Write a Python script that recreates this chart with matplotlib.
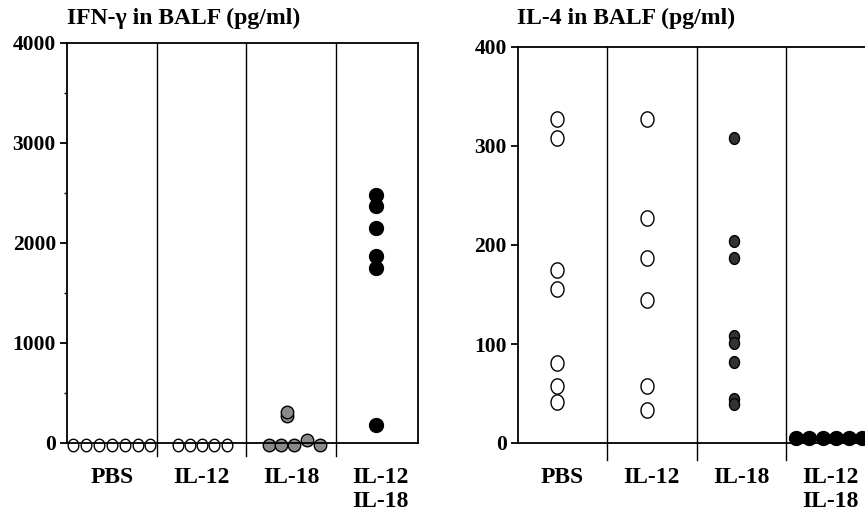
import matplotlib.pyplot as plt
import numpy as np
from matplotlib.path import Path

plt.rcParams['font.family'] = ['Liberation Serif', 'DejaVu Serif']
plt.rcParams['font.weight'] = 'bold'

groups = ['PBS', 'IL-12', 'IL-18', 'IL-12\nIL-18']

# IFN-gamma in BALF (pg/ml)
ifn_pbs = [-20, -20, -20, -20, -20, -20, -20]
ifn_il12 = [-20, -20, -20, -20, -20]
ifn_il18_low = [-20, -20, -20, 30, -20]
ifn_il18_high = [270, 310]
ifn_combo = [2480, 2370, 2150, 1870, 1750, 180]

# IL-4 in BALF (pg/ml)
il4_pbs = [327, 308, 175, 156, 81, 58, 41]
il4_il12 = [327, 227, 187, 144, 58, 33]
il4_il18 = [308, 204, 187, 108, 101, 82, 44, 39]
il4_combo = [5, 5, 5, 5, 5, 5]

# slightly tall ellipse marker
t = np.linspace(0, 2 * np.pi, 60)
ell = Path(np.column_stack([0.85 * np.cos(t), np.sin(t)]), closed=True)

fig = plt.figure(figsize=(8.65, 5.18), dpi=100)


def style(ax, ymax, major, minor, drop):
    ax.set_yticks(np.arange(0, ymax + 1, major))
    if minor:
        ax.set_yticks(np.arange(0, ymax + 1, minor), minor=True)
    ax.tick_params(axis='y', which='major', length=5, width=1.3, labelsize=15.5, pad=3)
    ax.tick_params(axis='y', which='minor', length=2.5, width=1)
    ax.set_xticks(range(4))
    ax.set_xticklabels(groups, fontsize=17, linespacing=1.2)
    ax.tick_params(axis='x', length=0, pad=17)
    for s in ax.spines.values():
        s.set_linewidth(1.3)
    for k in range(3):
        ax.plot([k + 0.5, k + 0.5], [drop, ymax], color='black', lw=1.0, clip_on=False)


# ---- left panel ----
ax1 = fig.add_axes([67 / 865, 75 / 518, 351 / 865, 400 / 518])
ax1.set_xlim(-0.5, 3.416)
style(ax1, 4000, 1000, 500, -125)
ax1.set_ylim(0, 4000)

kw_open = dict(marker=ell, ms=9, mfc='white', mec='black', mew=1.0, ls='none', clip_on=False)
ax1.plot(0 + np.linspace(-0.43, 0.43, len(ifn_pbs)), ifn_pbs, **kw_open)
ax1.plot(1 + np.linspace(-0.26, 0.28, len(ifn_il12)), ifn_il12, **kw_open)
kw_grey = dict(marker='o', ms=9, mfc='#8a8a8a', mec='black', mew=1.0, ls='none', clip_on=False)
ax1.plot(2 + np.linspace(-0.25, 0.32, len(ifn_il18_low)), ifn_il18_low, **kw_grey)
ax1.plot([2 - 0.05] * len(ifn_il18_high), ifn_il18_high, **kw_grey)
ax1.plot([3 - 0.05] * len(ifn_combo), ifn_combo, marker='o', ms=10, color='black', ls='none')

fig.text(67 / 865, 1 - 18 / 518, 'IFN-γ in BALF (pg/ml)', fontsize=17, fontweight='bold',
         ha='left', va='center')

# ---- right panel ----
ax2 = fig.add_axes([518 / 865, 75 / 518, 357 / 865, 396 / 518])
ax2.set_xlim(-0.5, 3.5)
style(ax2, 400, 100, None, -17)
ax2.set_ylim(0, 400)

kw_open2 = dict(marker=ell, ms=11, mfc='white', mec='black', mew=1.0, ls='none', clip_on=False)
ax2.plot([0 - 0.06] * len(il4_pbs), il4_pbs, **kw_open2)
ax2.plot([1 - 0.05] * len(il4_il12), il4_il12, **kw_open2)
ax2.plot([2 - 0.08] * len(il4_il18), il4_il18, marker=ell, ms=8.5, mfc='#333333', mec='black',
         mew=1.0, ls='none')
ax2.plot(3 + np.linspace(-0.38, 0.35, len(il4_combo)), il4_combo, marker='o', ms=10,
         color='black', ls='none', clip_on=False)

fig.text(517 / 865, 1 - 18 / 518, 'IL-4 in BALF (pg/ml)', fontsize=17, fontweight='bold',
         ha='left', va='center')

fig.savefig('out.png', dpi=100)
